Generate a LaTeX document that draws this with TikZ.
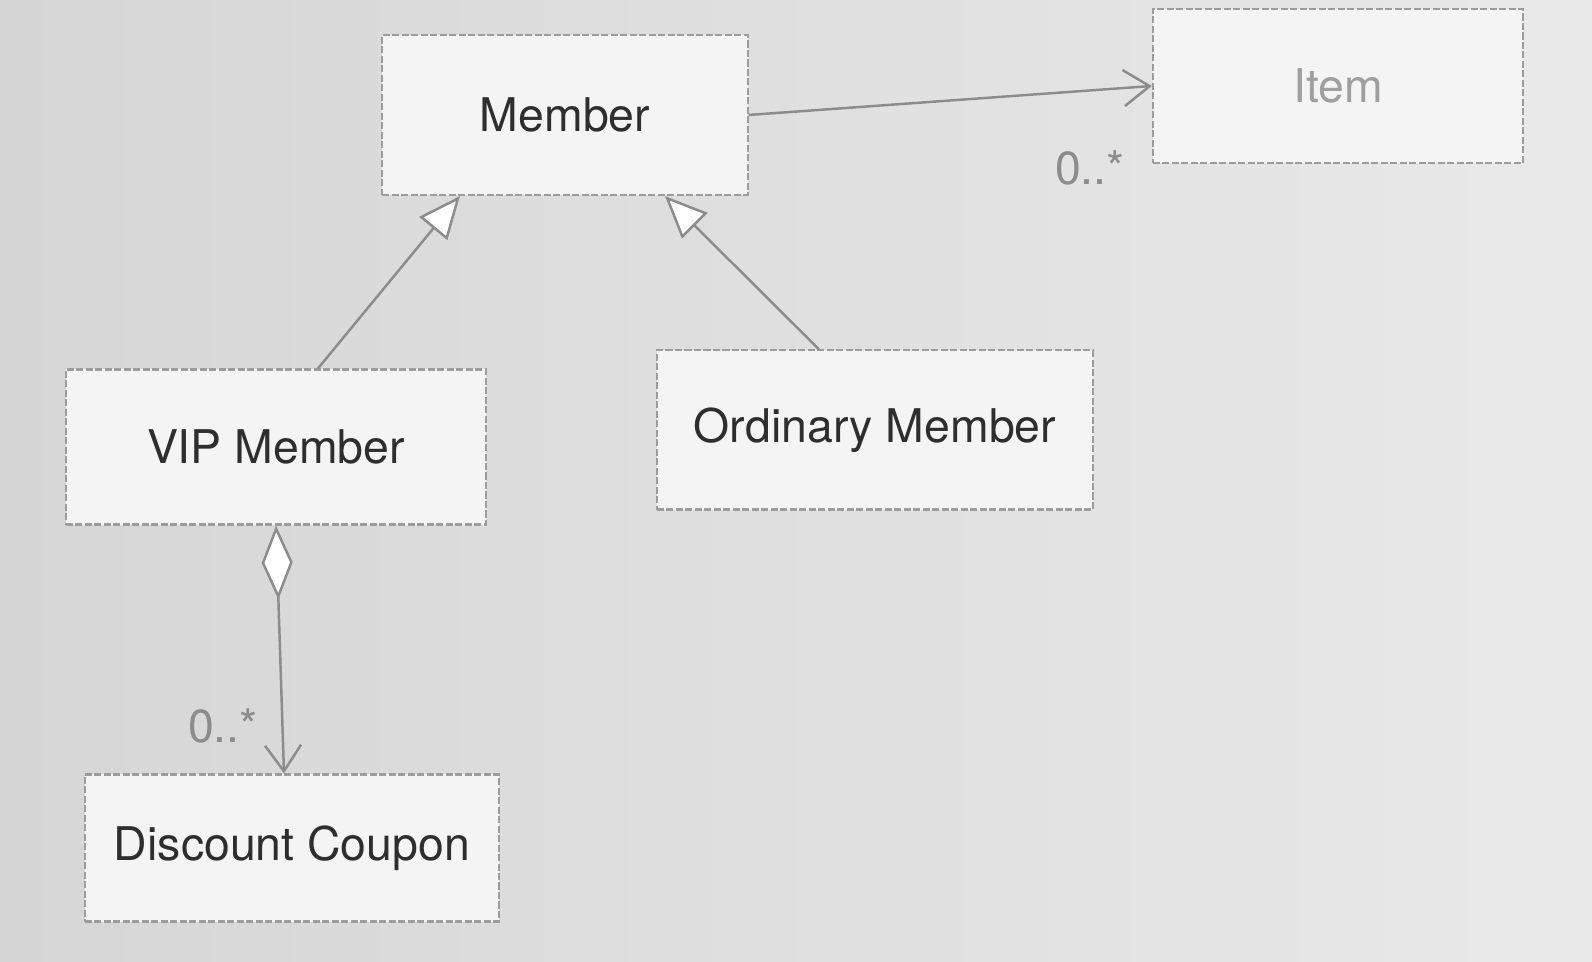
\documentclass[tikz,border=0pt]{standalone}
\usepackage{fontspec}
\setmainfont{TeX Gyre Heros}
\usetikzlibrary{arrows.meta}
\definecolor{bgleft}{HTML}{D6D6D6}
\definecolor{bgright}{HTML}{E9E9E9}
\definecolor{boxfill}{HTML}{F4F4F4}
\definecolor{boxline}{HTML}{9C9C9C}
\definecolor{linecol}{HTML}{8C8C8C}
\definecolor{textcol}{HTML}{2E2E2E}
\begin{document}
\begin{tikzpicture}[x=0.01cm, y=-0.01cm,
    umlbox/.style={draw=boxline, fill=boxfill, line width=0.6pt, dash pattern=on 2pt off 0.7pt,
        inner sep=0pt, font=\fontsize{13.2}{16}\selectfont},
    inherit/.style={draw=linecol, line width=0.7pt, -{Triangle[open, fill=white, length=0.42cm, width=0.36cm]}},
    assoc/.style={draw=linecol, line width=0.7pt, -{Straight Barb[length=0.26cm, width=0.36cm]}},
    aggr/.style={draw=linecol, line width=0.7pt,
        {Diamond[open, fill=white, length=0.74cm, width=0.31cm]}-{Straight Barb[length=0.26cm, width=0.36cm]}},
    mult/.style={text=linecol, font=\fontsize{13.2}{16}\selectfont}]

   % screen background
   \shade[left color=bgleft, right color=bgright] (0,0) rectangle (1592,962);

   % the classes
   \foreach \x/\y/\w/\h/\id/\name/\col in {
        {565/115/3.65/1.60/Member/Member/textcol},
        {1338/86/3.70/1.54/Item/Item/gray!75},
        {276/447/4.20/1.55/VIP/{VIP Member}/textcol},
        {875/430/4.36/1.59/Ordinary/{Ordinary Member}/textcol},
        {292/848/4.14/1.47/Coupon/{Discount Coupon}/textcol}}
        \node[umlbox, text=\col, minimum width=\w cm, minimum height=\h cm] (\id) at (\x,\y) {\name};

   % association and generalizations
   \draw[assoc] (Member.east) -- (Item.west);
   \node[mult] (m1) at (1090,168) {0..*};

   \draw[inherit] ([xshift=0.42cm]VIP.north) -- ([xshift=-1.05cm]Member.south);
   \draw[inherit] ([xshift=-0.56cm]Ordinary.north) -- ([xshift=1.0cm]Member.south);

   % aggregation
   \draw[aggr] (VIP.south) -- ([xshift=-0.08cm]Coupon.north);
   \node[mult] (m2) at (223,726) {0..*};

\end{tikzpicture}
\end{document}
